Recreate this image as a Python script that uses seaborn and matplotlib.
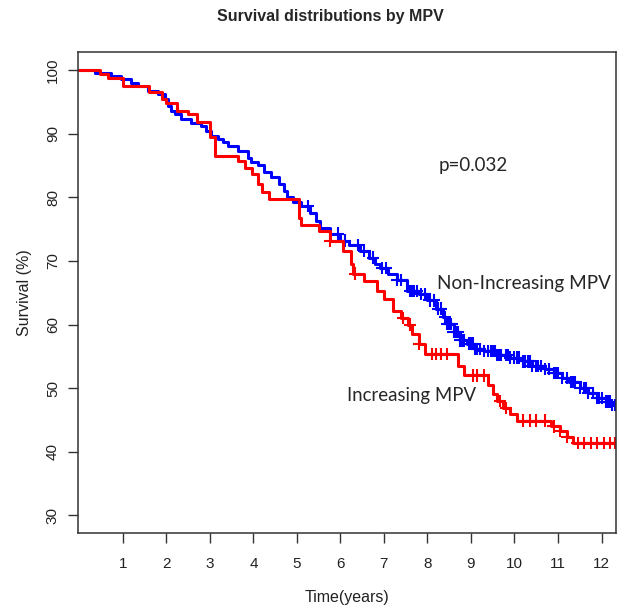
import numpy as np
import pandas as pd
import matplotlib
matplotlib.use("Agg")
import matplotlib.pyplot as plt
import seaborn as sns

# ---- data ----
inc_time = [0, 0.47, 0.66, 1.0, 1.6, 1.9, 2.0, 2.25, 2.5, 2.7, 3.0, 3.12, 3.65, 3.8, 3.97,
            4.1, 4.2, 4.35, 5.05, 5.1, 5.5, 5.75, 6.05, 6.25, 6.3, 6.55, 6.85, 7.0, 7.2,
            7.4, 7.55, 7.65, 7.8, 7.95, 8.7, 8.85, 9.4, 9.5, 9.6, 9.74, 9.9, 10.05, 10.85,
            11.05, 11.2, 11.35, 12.4]
inc_surv = [100, 99.3, 98.7, 97.5, 96.5, 95.5, 94.8, 93.6, 93.0, 91.8, 89.5, 86.5, 85.7, 84.6, 83.6,
            82.1, 80.8, 79.7, 76.8, 75.7, 74.7, 73.2, 71.6, 69.5, 68.0, 66.9, 65.3, 64.0, 62.2,
            61.0, 60.0, 58.5, 57.0, 55.4, 53.5, 52.0, 50.5, 49.1, 48.0, 46.9, 46.0, 44.9, 44.0,
            43.3, 42.3, 41.4, 41.4]
inc_cens = [5.76, 6.33, 7.44, 7.6, 7.8, 8.1, 8.2, 8.3, 8.46, 9.05, 9.15, 9.3, 9.67, 9.8,
            10.2, 10.35, 10.5, 10.7, 10.9, 11.05, 11.2, 11.45, 11.6, 11.75, 11.9, 12.05, 12.2, 12.3]

non_time = [0, 0.36, 0.72, 0.95, 1.18, 1.34, 1.57, 1.8, 1.97, 2.03, 2.1, 2.2, 2.34, 2.56, 2.8,
            2.91, 3.02, 3.18, 3.3, 3.41, 3.64, 3.87, 3.95, 4.1, 4.25, 4.4, 4.6, 4.7, 4.77, 4.9,
            5.1, 5.3, 5.45, 5.53, 5.75, 5.99, 6.2, 6.45, 6.65, 6.8, 6.91, 7.1, 7.3, 7.53, 7.8,
            8.0, 8.2, 8.35, 8.45, 8.6, 8.75, 8.9, 9.1, 9.3, 9.6, 9.9, 10.2, 10.4, 10.7, 10.9,
            11.1, 11.25, 11.5, 11.7, 11.9, 12.1, 12.25, 12.4]
non_surv = [100, 99.5, 99.0, 98.6, 98.0, 97.5, 96.7, 96.2, 95.4, 94.3, 93.6, 93.1, 92.3, 91.7, 91.2,
            90.4, 89.6, 89.2, 88.6, 88.1, 87.3, 86.2, 85.5, 85.0, 84.0, 83.2, 82.1, 81.0, 80.0, 79.3,
            78.6, 77.5, 76.2, 75.2, 74.3, 73.2, 72.5, 71.6, 70.5, 69.5, 68.9, 68.0, 67.0, 65.3, 64.8,
            63.8, 62.5, 61.2, 60.1, 58.8, 57.5, 57.0, 56.2, 55.8, 55.2, 54.8, 54.2, 53.5, 53.0, 52.4,
            51.6, 51.0, 50.0, 49.2, 48.5, 47.9, 47.4, 47.4]
non_cens = [5.25, 5.95, 6.1, 6.4, 6.55, 6.75, 6.95, 7.05, 7.3, 7.4, 7.6, 7.65, 7.7, 7.75, 7.85,
            7.95, 8.05, 8.15, 8.25, 8.3, 8.4, 8.45, 8.5, 8.55, 8.6, 8.65, 8.7, 8.75, 8.8, 8.85,
            8.95, 9.0, 9.05, 9.1, 9.15, 9.2, 9.3, 9.4, 9.45, 9.5, 9.55, 9.6, 9.65, 9.7, 9.8,
            9.85, 9.9, 10.0, 10.05, 10.1, 10.2, 10.25, 10.3, 10.35, 10.4, 10.5, 10.55, 10.6,
            10.7, 10.8, 10.9, 10.95, 11.0, 11.1, 11.2, 11.3, 11.35, 11.4, 11.5, 11.6, 11.65,
            11.7, 11.8, 11.9, 11.95, 12.0, 12.1, 12.15, 12.2, 12.25, 12.3]

x_ticks = list(range(1, 13))
y_ticks = [30, 40, 50, 60, 70, 80, 90, 100]
title = "Survival distributions by MPV"
p_text = "p=0.032"
lab_non = "Non-Increasing MPV"
lab_inc = "Increasing MPV"

def step_at(times, surv, t):
    idx = np.searchsorted(np.asarray(times), t, side="right") - 1
    return np.asarray(surv)[idx]

curves = pd.concat([
    pd.DataFrame({"time": non_time, "surv": non_surv, "group": lab_non}),
    pd.DataFrame({"time": inc_time, "surv": inc_surv, "group": lab_inc}),
])
cens = pd.concat([
    pd.DataFrame({"time": non_cens, "surv": step_at(non_time, non_surv, non_cens), "group": lab_non}),
    pd.DataFrame({"time": inc_cens, "surv": step_at(inc_time, inc_surv, inc_cens), "group": lab_inc}),
])
palette = {lab_non: "#0000FF", lab_inc: "#FF0000"}

sns.set_style("white")
plt.rcParams["font.family"] = ["Liberation Sans", "DejaVu Sans"]

fig = plt.figure(figsize=(6.24, 6.13), dpi=100)
ax = fig.add_axes([0.125, 0.130, 0.862, 0.785])

sns.lineplot(data=curves, x="time", y="surv", hue="group", palette=palette,
             drawstyle="steps-post", linewidth=2.2, sort=False, legend=False, ax=ax,
             estimator=None)
sns.scatterplot(data=cens, x="time", y="surv", hue="group", palette=palette,
                marker="+", s=80, linewidth=1.5, legend=False, ax=ax)

ax.set_xlim(-0.03, 12.33)
ax.set_ylim(27.2, 102.8)
ax.set_xticks(x_ticks)
ax.set_xticklabels([str(v) for v in x_ticks], fontsize=11, color="#222222")
ax.set_yticks(y_ticks)
ax.set_yticklabels([str(v) for v in y_ticks], fontsize=11, rotation=90, va="center",
                   color="#222222")
ax.tick_params(axis="both", direction="out", length=7, width=1, color="#333333",
               bottom=True, left=True)
ax.tick_params(axis="x", pad=10)
ax.tick_params(axis="y", pad=6)
for s in ax.spines.values():
    s.set_color("#333333")
    s.set_linewidth(1.1)

ax.set_xlabel("Time(years)", fontsize=11.5, color="#222222", labelpad=14)
ax.set_ylabel("Survival (%)", fontsize=11.5, color="#222222", labelpad=10)
fig.suptitle(title, fontsize=11.5, fontweight="bold", y=0.985, x=0.53)

ax.text(8.25, 85.0, p_text, fontsize=13.5, family=["Lato", "DejaVu Sans"], va="center", ha="left")
ax.text(8.22, 66.5, lab_non, fontsize=13.6, family=["Lato", "DejaVu Sans"], va="center", ha="left")
ax.text(6.16, 48.8, lab_inc, fontsize=13.4, family=["Lato", "DejaVu Sans"], va="center", ha="left")

fig.savefig("out.png", dpi=100)
